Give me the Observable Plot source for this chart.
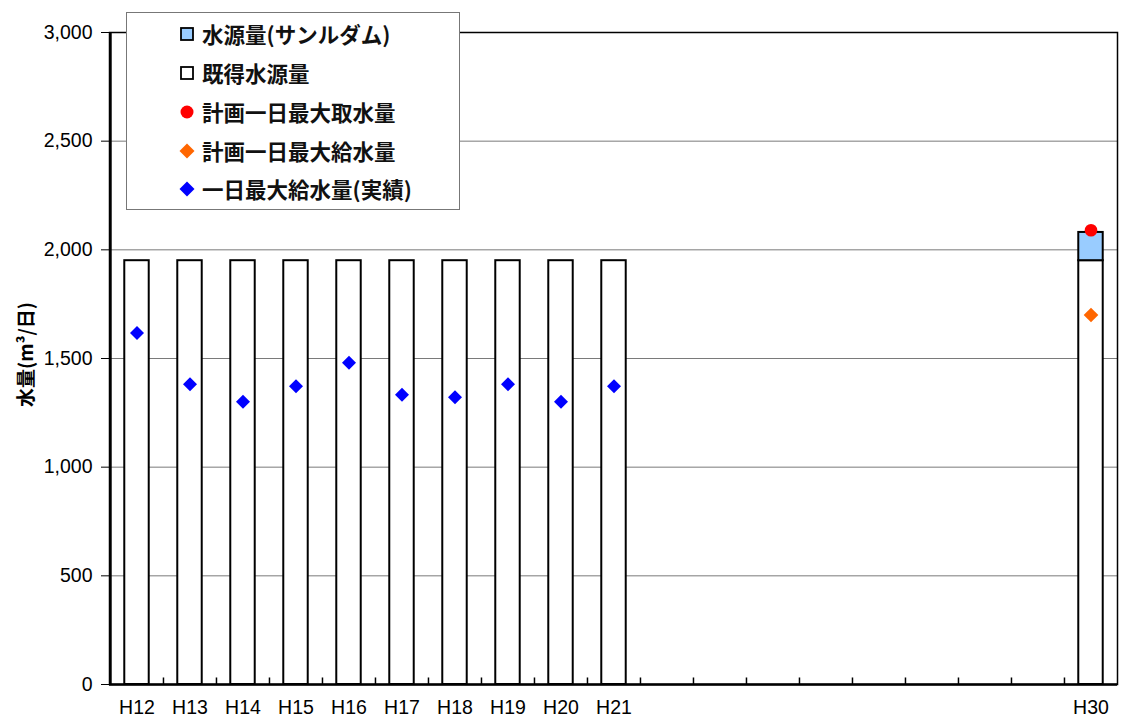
<!DOCTYPE html>
<html>
<head>
<meta charset="utf-8">
<script src="https://cdn.jsdelivr.net/npm/d3@7"></script>
<script src="https://cdn.jsdelivr.net/npm/@observablehq/plot@0.6"></script>
<style>
  html, body { margin: 0; padding: 0; background: #fff; }
  #wrap { position: relative; width: 1123px; height: 724px; }
  #legend {
    position: absolute; left: 126px; top: 12px; width: 334px; height: 198px;
    background: #fff; border: 1.5px solid #777; box-sizing: border-box;
    font-family: "Noto Sans CJK JP", sans-serif; font-weight: bold; font-size: 21.5px; color: #111;
  }
  .txt { position: absolute; left: 75px; white-space: nowrap; line-height: 24px; }
</style>
</head>
<body>
<div id="wrap"></div>
<script>
// ---- data ----
const years = ["H12","H13","H14","H15","H16","H17","H18","H19","H20","H21",
               "H22","H23","H24","H25","H26","H27","H28","H29","H30"];
const labeledYears = ["H12","H13","H14","H15","H16","H17","H18","H19","H20","H21","H30"];
const existingYears = ["H12","H13","H14","H15","H16","H17","H18","H19","H20","H21","H30"];
const existingValues = [1950,1950,1950,1950,1950,1950,1950,1950,1950,1950,1950];
const damYears = ["H30"];
const damValues = [130];
const plannedIntakeYears = ["H30"];
const plannedIntakeValues = [2090];
const plannedSupplyYears = ["H30"];
const plannedSupplyValues = [1700];
const actualYears = ["H12","H13","H14","H15","H16","H17","H18","H19","H20","H21"];
const actualValues = [1617,1381,1301,1372,1480,1333,1322,1381,1301,1372];
const yTicks = [0,500,1000,1500,2000,2500,3000];
const gridValues = [500,1000,1500,2000,2500];
const yLabel = "水量(m³/日)";
const legendItems = [
  {label: "水源量(サンルダム)", kind: "square", color: "#99CCFF"},
  {label: "既得水源量", kind: "square", color: "#FFFFFF"},
  {label: "計画一日最大取水量", kind: "circle", color: "#FF0000"},
  {label: "計画一日最大給水量", kind: "diamond", color: "#FF6600"},
  {label: "一日最大給水量(実績)", kind: "diamond", color: "#0000FF"}
];

// ---- tables ----
const existing = existingYears.map((y, i) => ({year: y, base: 0, top: existingValues[i]}));
const dam = damYears.map((y, i) => ({year: y, base: existingValues[existingYears.indexOf(y)], top: existingValues[existingYears.indexOf(y)] + damValues[i]}));
const intake = plannedIntakeYears.map((y, i) => ({year: y, v: plannedIntakeValues[i]}));
const supply = plannedSupplyYears.map((y, i) => ({year: y, v: plannedSupplyValues[i]}));
const actual = actualYears.map((y, i) => ({year: y, v: actualValues[i]}));

const W = 1123, H = 724, ML = 109, MR = 6, MT = 32, MB = 40;
const bw = (W - ML - MR) / years.length;
const inset = (bw - 24.5) / 2;
const font = "'Liberation Sans', Arial, sans-serif";

const chart = Plot.plot({
  width: W, height: H,
  marginLeft: ML, marginRight: MR, marginTop: MT, marginBottom: MB,
  style: {fontFamily: font, background: "#fff"},
  x: {type: "band", domain: years, padding: 0, axis: null},
  y: {domain: [0, 3000], axis: null},
  marks: [
    Plot.ruleY(gridValues, {stroke: "#7a7a7a", strokeWidth: 1}),
    Plot.barY(existing, {x: "year", y1: "base", y2: "top", fill: "#fff", stroke: "#000", strokeWidth: 2, insetLeft: inset, insetRight: inset}),
    Plot.barY(dam, {x: "year", y1: "base", y2: "top", fill: "#99CCFF", stroke: "#000", strokeWidth: 2, insetLeft: inset, insetRight: inset}),
    Plot.ruleX(years.slice(1), {x: d => d, dx: -bw / 2, y1: 0, y2: 30, stroke: "#000", strokeWidth: 1.5}),
    Plot.frame({stroke: "#000", strokeWidth: 1.5}),
    Plot.ruleY([0], {stroke: "#000", strokeWidth: 2.5}),
    Plot.ruleX([years[0]], {x: d => d, dx: -bw / 2, stroke: "#000", strokeWidth: 2.5}),
    Plot.axisY({ticks: yTicks, tickFormat: d3.format(","), tickSize: 8, tickPadding: 9, fontSize: 19.5, tickWidth: 2, stroke: "#000", fill: "#000", label: null}),
    Plot.axisX({ticks: labeledYears, tickSize: 0, tickPadding: 16, fontSize: 19.5, fill: "#000", label: null}),
    Plot.text([yLabel], {frameAnchor: "left", textAnchor: "middle", rotate: -90, dx: -83, dy: -4, fontSize: 19, fontWeight: "bold", fill: "#000", fontFamily: "'Noto Sans CJK JP', sans-serif"}),
    Plot.dot(actual, {x: "year", y: "v", symbol: "diamond2", r: 6.3, fill: "#0000FF"}),
    Plot.dot(supply, {x: "year", y: "v", symbol: "diamond2", r: 6.6, fill: "#FF6600"}),
    Plot.dot(intake, {x: "year", y: "v", symbol: "circle", r: 6.3, fill: "#FF0000"})
  ]
});

const wrap = document.getElementById("wrap");
wrap.appendChild(chart);

// legend
const legend = document.createElement("div");
legend.id = "legend";
const rowCenters = [21, 60, 99, 138, 176];
legendItems.forEach((it, i) => {
  const cy = rowCenters[i] - 12;
  const sym = document.createElementNS("http://www.w3.org/2000/svg", "svg");
  sym.setAttribute("width", 16); sym.setAttribute("height", 16);
  sym.style.position = "absolute"; sym.style.left = "52px"; sym.style.top = (cy + 4) + "px";
  let shape;
  if (it.kind === "square") {
    shape = document.createElementNS("http://www.w3.org/2000/svg", "rect");
    shape.setAttribute("x", 2); shape.setAttribute("y", 2); shape.setAttribute("width", 12); shape.setAttribute("height", 12);
    shape.setAttribute("fill", it.color); shape.setAttribute("stroke", "#000"); shape.setAttribute("stroke-width", 1.8);
  } else if (it.kind === "circle") {
    shape = document.createElementNS("http://www.w3.org/2000/svg", "circle");
    shape.setAttribute("cx", 8); shape.setAttribute("cy", 8); shape.setAttribute("r", 6.5);
    shape.setAttribute("fill", it.color);
  } else {
    shape = document.createElementNS("http://www.w3.org/2000/svg", "path");
    shape.setAttribute("d", "M8,0.5L15.5,8L8,15.5L0.5,8Z");
    shape.setAttribute("fill", it.color);
  }
  sym.appendChild(shape);
  legend.appendChild(sym);
  const t = document.createElement("div");
  t.className = "txt";
  t.style.top = cy + "px";
  t.textContent = it.label;
  legend.appendChild(t);
});
wrap.appendChild(legend);
</script>
</body>
</html>
